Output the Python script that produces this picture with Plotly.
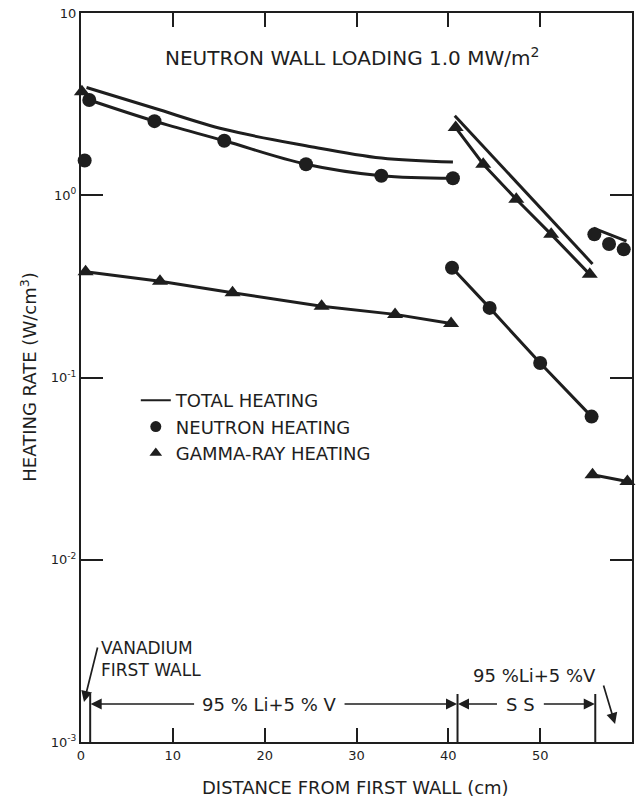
import plotly.graph_objects as go

# ---------------- data ----------------
# first wall (vanadium)
fw_neutron_x = [0.4]
fw_neutron_y = [1.55]
fw_gamma_x = [0.1]
fw_gamma_y = [3.7]

# 95% Li + 5% V zone
li_total_x = [0.6, 8.0, 15.6, 24.5, 32.7, 40.5]
li_total_y = [3.9, 3.0, 2.3, 1.87, 1.6, 1.52]
li_neutron_x = [0.9, 8.0, 15.6, 24.5, 32.7, 40.5]
li_neutron_y = [3.33, 2.55, 1.99, 1.48, 1.28, 1.24]
li_gamma_x = [0.5, 8.6, 16.5, 26.2, 34.2, 40.3]
li_gamma_y = [0.38, 0.337, 0.292, 0.246, 0.222, 0.198]

# stainless steel zone
ss_total_x = [40.7, 55.7]
ss_total_y = [2.73, 0.42]
ss_gamma_x = [40.8, 43.8, 47.4, 51.2, 55.4]
ss_gamma_y = [2.35, 1.48, 0.95, 0.61, 0.368]
ss_neutron_x = [40.4, 44.5, 50.0, 55.6]
ss_neutron_y = [0.40, 0.241, 0.12, 0.061]

# rear 95% Li + 5% V zone
rear_total_x = [55.8, 59.4]
rear_total_y = [0.66, 0.56]
rear_neutron_x = [55.9, 57.5, 59.1]
rear_neutron_y = [0.61, 0.54, 0.505]
rear_gamma_x = [55.7, 59.5]
rear_gamma_y = [0.0293, 0.0269]

# zone boundaries (cm)
boundaries = [1, 41, 56]

y_tickvals = [1e-3, 1e-2, 1e-1, 1, 10]
y_ticktext = ["10<sup>-3</sup>", "10<sup>-2</sup>", "10<sup>-1</sup>", "10<sup>0</sup>", "10"]
x_tickvals = [0, 10, 20, 30, 40, 50, 60]
x_ticktext = ["0", "10", "20", "30", "40", "50", "60"]

legend_labels = ["TOTAL HEATING", "NEUTRON HEATING", "GAMMA-RAY HEATING"]

# ---------------- style ----------------
INK = "#1e1e1e"
FONT = "DejaVu Sans"
W, H = 639, 797
ML, MR, MT, MB = 81, 5, 13, 55
PW, PH = W - ML - MR, H - MT - MB


def px_to_paper_x(px):
    return (px - ML) / PW


def px_to_paper_y(py):
    return (H - MB - py) / PH


def xdata(px):
    return (px - ML) / PW * 60


fig = go.Figure()

line_kw = dict(color=INK, width=3)
circ = dict(symbol="circle", size=14, color=INK)
tri = dict(symbol="triangle-up", size=14, color=INK)

# total heating lines
fig.add_trace(go.Scatter(x=li_total_x, y=li_total_y, mode="lines",
                         line=dict(color=INK, width=3, shape="spline", smoothing=1.0),
                         showlegend=False, cliponaxis=False))
fig.add_trace(go.Scatter(x=ss_total_x, y=ss_total_y, mode="lines", line=line_kw,
                         showlegend=False, cliponaxis=False))
fig.add_trace(go.Scatter(x=rear_total_x, y=rear_total_y, mode="lines", line=line_kw,
                         showlegend=False, cliponaxis=False))

# neutron heating
fig.add_trace(go.Scatter(x=li_neutron_x, y=li_neutron_y, mode="lines+markers",
                         line=dict(color=INK, width=3, shape="spline", smoothing=1.0),
                         marker=circ, showlegend=False, cliponaxis=False))
fig.add_trace(go.Scatter(x=ss_neutron_x, y=ss_neutron_y, mode="lines+markers", line=line_kw,
                         marker=circ, showlegend=False, cliponaxis=False))
fig.add_trace(go.Scatter(x=rear_neutron_x, y=rear_neutron_y, mode="markers",
                         marker=circ, showlegend=False, cliponaxis=False))
fig.add_trace(go.Scatter(x=fw_neutron_x, y=fw_neutron_y, mode="markers",
                         marker=circ, showlegend=False, cliponaxis=False))

# gamma heating
fig.add_trace(go.Scatter(x=li_gamma_x, y=li_gamma_y, mode="lines+markers", line=line_kw,
                         marker=tri, showlegend=False, cliponaxis=False))
fig.add_trace(go.Scatter(x=ss_gamma_x, y=ss_gamma_y, mode="lines+markers", line=line_kw,
                         marker=tri, showlegend=False, cliponaxis=False))
fig.add_trace(go.Scatter(x=rear_gamma_x, y=rear_gamma_y, mode="lines+markers", line=line_kw,
                         marker=tri, showlegend=False, cliponaxis=False))
fig.add_trace(go.Scatter(x=fw_gamma_x, y=fw_gamma_y, mode="markers",
                         marker=tri, showlegend=False, cliponaxis=False))

# legend entries
fig.add_trace(go.Scatter(x=[None], y=[None], mode="lines", line=dict(color=INK, width=2),
                         name=legend_labels[0]))
fig.add_trace(go.Scatter(x=[None], y=[None], mode="markers",
                         marker=dict(symbol="circle", size=11, color=INK), name=legend_labels[1]))
fig.add_trace(go.Scatter(x=[None], y=[None], mode="markers",
                         marker=dict(symbol="triangle-up", size=11, color=INK), name=legend_labels[2]))

# zone boundary markers
shapes = []
for b in boundaries:
    shapes.append(dict(type="line", xref="x", yref="y domain", x0=b, x1=b,
                       y0=0, y1=px_to_paper_y(694), line=dict(color=INK, width=2)))

dim_y = px_to_paper_y(704)
annotations = []


def arrow(x_tail, y_tail, x_head, y_head):
    annotations.append(dict(x=x_head, y=y_head, ax=x_tail, ay=y_tail, xref="x", yref="y domain",
                            axref="x", ayref="y domain", text="", showarrow=True,
                            arrowhead=2, arrowsize=1.3, arrowwidth=1.7, arrowcolor=INK))


arrow(xdata(196), dim_y, 1.05, dim_y)
arrow(xdata(344), dim_y, 40.95, dim_y)
arrow(xdata(500), dim_y, 41.05, dim_y)
arrow(xdata(544), dim_y, 55.95, dim_y)
arrow(xdata(605), px_to_paper_y(684), xdata(617), px_to_paper_y(724))
arrow(xdata(98), px_to_paper_y(646), xdata(84), px_to_paper_y(702))

txt_font = dict(family=FONT, size=18, color=INK)
annotations += [
    dict(x=xdata(270), y=dim_y, xref="x", yref="y domain", text="95 % Li+5 % V",
         showarrow=False, font=txt_font, xanchor="center", yanchor="middle"),
    dict(x=xdata(522), y=dim_y, xref="x", yref="y domain", text="S S",
         showarrow=False, font=txt_font, xanchor="center", yanchor="middle"),
    dict(x=xdata(536), y=px_to_paper_y(675), xref="x", yref="y domain", text="95 %Li+5 %V",
         showarrow=False, font=txt_font, xanchor="center", yanchor="middle"),
    dict(x=px_to_paper_x(99), y=px_to_paper_y(659), xref="paper", yref="paper",
         text="VANADIUM<br>FIRST WALL", showarrow=False, align="left",
         font=dict(family=FONT, size=17, color=INK), xanchor="left", yanchor="middle"),
    dict(x=px_to_paper_x(163), y=px_to_paper_y(57), xref="paper", yref="paper",
         text="NEUTRON WALL LOADING 1.0 MW/m<sup>2</sup>", showarrow=False,
         font=dict(family=FONT, size=20, color=INK), xanchor="left", yanchor="middle"),
    dict(x=px_to_paper_x(28), y=0.5, xref="paper", yref="paper",
         text="HEATING RATE (W/cm<sup>3</sup>)", textangle=-90, showarrow=False,
         font=dict(family=FONT, size=18, color=INK), xanchor="center", yanchor="middle"),
    dict(x=px_to_paper_x(356), y=px_to_paper_y(787), xref="paper", yref="paper",
         text="DISTANCE FROM FIRST WALL (cm)", showarrow=False,
         font=dict(family=FONT, size=18, color=INK), xanchor="center", yanchor="middle"),
]

fig.update_layout(
    width=W, height=H,
    margin=dict(l=ML, r=MR, t=MT, b=MB, pad=0),
    paper_bgcolor="white", plot_bgcolor="white",
    font=dict(family=FONT, color=INK),
    shapes=shapes, annotations=annotations,
    legend=dict(x=px_to_paper_x(136), y=px_to_paper_y(382), xanchor="left", yanchor="top",
                bgcolor="rgba(0,0,0,0)", borderwidth=0, font=dict(family=FONT, size=18, color=INK),
                tracegroupgap=0, itemwidth=30),
)

fig.update_xaxes(range=[0, 60], tickvals=x_tickvals, ticktext=x_ticktext,
                 showline=True, linewidth=2, linecolor=INK, mirror="ticks",
                 ticks="inside", ticklen=14, tickwidth=2, tickcolor=INK,
                 showgrid=False, zeroline=False,
                 tickfont=dict(family=FONT, size=13, color=INK))
fig.update_yaxes(type="log", range=[-3, 1], tickvals=y_tickvals, ticktext=y_ticktext,
                 showline=True, linewidth=2, linecolor=INK, mirror="ticks",
                 ticks="inside", ticklen=22, tickwidth=2, tickcolor=INK,
                 showgrid=False, zeroline=False,
                 tickfont=dict(family=FONT, size=13, color=INK))

fig.write_html("out.html")
